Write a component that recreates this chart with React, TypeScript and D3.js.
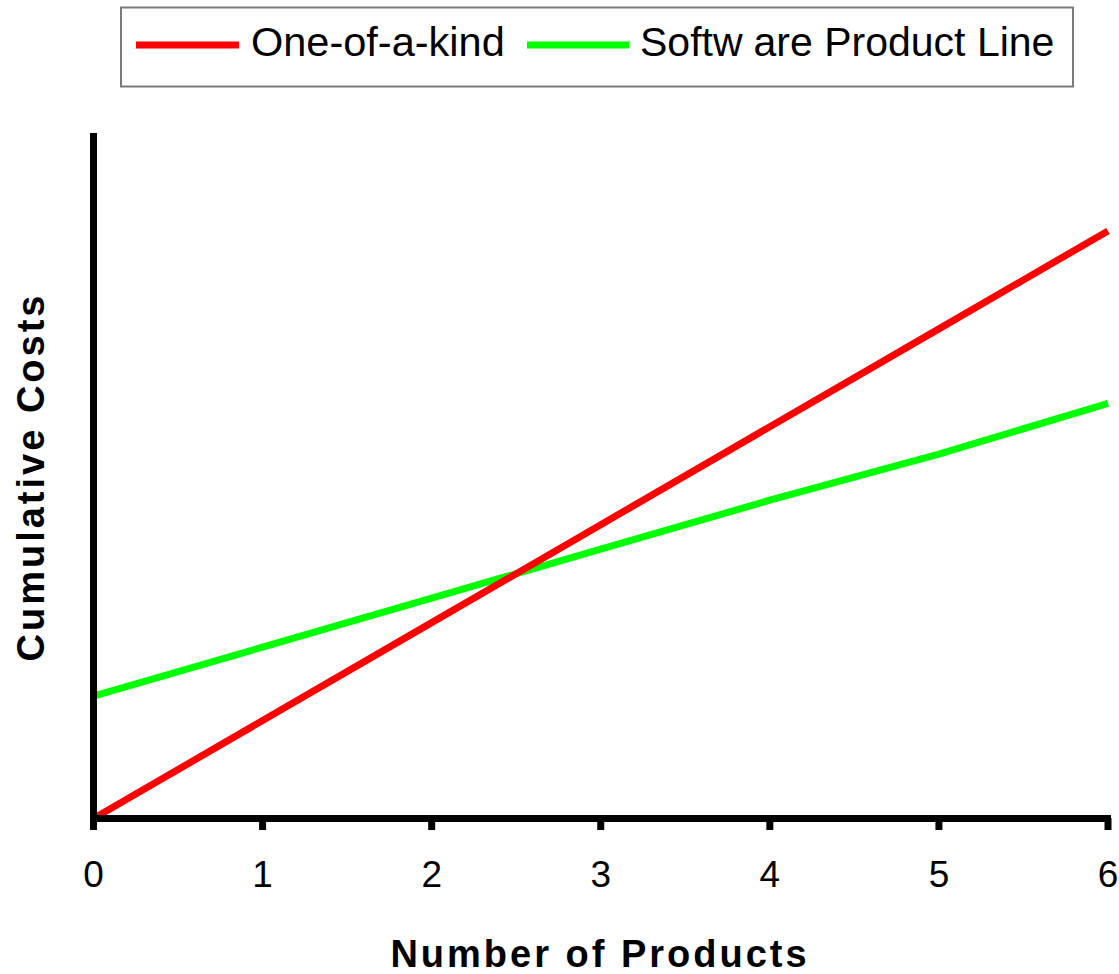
import React from "react";
import * as d3 from "d3";

// Number of products built
const products = [0, 1, 2, 3, 4, 5, 6];
// Cumulative cost of building each product from scratch
const oneOfAKind = [0, 1, 2, 3, 4, 5, 6];
// Cumulative cost with an up-front product line investment
const productLine = [1.25, 1.75, 2.25, 2.75, 3.25, 3.72, 4.24];
const xTicks = [0, 1, 2, 3, 4, 5, 6];

const W = 1119;
const H = 974;

const x = d3.scaleLinear().domain([0, 6]).range([93.5, 1108]);
const y = d3.scaleLinear().domain([0, 7]).range([818.5, 133]);

const line = d3
  .line<number>()
  .x((_, i) => x(products[i]))
  .y((d) => y(d));

const sans = "'Liberation Sans', Arial, Helvetica, sans-serif";

export default function App() {
  return (
    <svg
      width={W}
      height={H}
      style={{ position: "absolute", left: 0, top: 0, background: "#fff" }}
      fontFamily={sans}
    >
      {/* legend */}
      <rect x={121} y={7.5} width={952} height={79} fill="#fff" stroke="#7a7a7a" strokeWidth={2} />
      <line x1={136} x2={239} y1={45} y2={45} stroke="#ff0000" strokeWidth={7} />
      <text x={251} y={56} fontSize={41.5} fill="#000">One-of-a-kind</text>
      <line x1={527} x2={629} y1={45} y2={45} stroke="#00ff00" strokeWidth={7} />
      <text x={640} y={56} fontSize={41} fill="#000">
        Softw<tspan dx={11}>are Product Line</tspan>
      </text>

      {/* series */}
      <path d={line(productLine) ?? ""} fill="none" stroke="#00ff00" strokeWidth={7} />
      <path d={line(oneOfAKind) ?? ""} fill="none" stroke="#ff0000" strokeWidth={7} />

      {/* axes */}
      <line x1={x(0)} x2={x(0)} y1={133} y2={822} stroke="#000" strokeWidth={7} />
      <line x1={90} x2={1111} y1={y(0)} y2={y(0)} stroke="#000" strokeWidth={7} />
      {xTicks.map((t) => (
        <g key={t}>
          <line x1={x(t)} x2={x(t)} y1={818} y2={830} stroke="#000" strokeWidth={7} />
          <text x={x(t)} y={887} fontSize={37} textAnchor="middle" fill="#000">
            {t}
          </text>
        </g>
      ))}

      {/* axis titles */}
      <text
        x={600}
        y={967}
        fontSize={38}
        fontWeight="bold"
        letterSpacing={3}
        textAnchor="middle"
        fill="#000"
      >
        Number of Products
      </text>
      <text
        transform="translate(44,477) rotate(-90)"
        fontSize={38}
        fontWeight="bold"
        letterSpacing={3}
        textAnchor="middle"
        fill="#000"
      >
        Cumulative Costs
      </text>
    </svg>
  );
}
